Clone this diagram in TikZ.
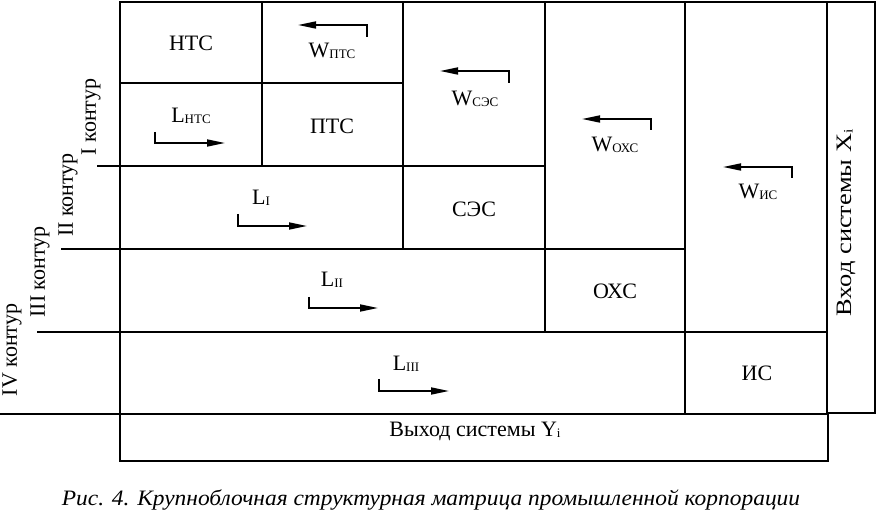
\documentclass[tikz,border=0pt]{standalone}
\usepackage{fontspec}
\setmainfont{Liberation Serif}
\usepackage{tikz}
\usetikzlibrary{arrows.meta}

% нижний индекс у обозначений
\newcommand{\idx}[1]{\raisebox{-1.5pt}{\fontsize{13}{13}\selectfont #1}}

\begin{document}
\begin{tikzpicture}[x=1pt, y=-1pt,
    thk/.style={line width=2.6pt},
    edge/.style={line width=1.8pt},
    thn/.style={line width=1.1pt},
    lbl/.style={font=\fontsize{22}{24}\selectfont, inner sep=0pt},
    flow/.style={line width=1.7pt, -{Triangle[length=18pt, width=7pt]}}]

    \useasboundingbox (0,0) rectangle (876,518);

    % =================================================================
    % 1. РАМКИ И ЛИНИИ МАТРИЦЫ
    % =================================================================
    \draw[thn] (120,2) -- (875,2);
    \draw[thn] (827,2) rectangle (875,413);
    \draw[thn] (545,2) -- (545,28);
    \draw[thn] (827,2) -- (827,48);
    \draw[edge] (120,2) -- (120,461) -- (828,461) -- (828,414);

    % Блок НТС
    \draw[thk] (120,2) rectangle (262,83);

    % Горизонтальные линии контуров
    \draw[thk] (120,83) -- (403,83);
    \draw[thk] (97,166) -- (545,166);
    \draw[thk] (61,249) -- (685,249);
    \draw[thk] (37,332) -- (827,332);
    \draw[thk] (0,414) -- (827,414);

    % Вертикальные линии
    \draw[thk] (262,2) -- (262,166);
    \draw[thk] (403,2) -- (403,249);
    \draw[thk] (545,28) -- (545,332);
    \draw[thk] (685,2) -- (685,414);
    \draw[thk] (827,48) -- (827,414);

    % =================================================================
    % 2. ПОДСИСТЕМЫ
    % =================================================================
    \node[lbl] (nts) at (191,43) {НТС};
    \node[lbl] (pts) at (332,126) {ПТС};
    \node[lbl] (ses) at (474,209) {СЭС};
    \node[lbl] (ohs) at (615,291) {ОХС};
    \node[lbl] (is)  at (757,373) {ИС};

    % =================================================================
    % 3. ПОТОКИ W (ВЛЕВО) И L (ВПРАВО)
    % =================================================================
    \node[lbl] (w-pts) at (332,51)  {W\idx{ПТС}};
    \node[lbl] (w-ses) at (475,99)  {W\idx{СЭС}};
    \node[lbl] (w-ohs) at (615,145) {W\idx{ОХС}};
    \node[lbl] (w-is)  at (758,192) {W\idx{ИС}};

    \coordinate (wp-a) at (367,37);  \coordinate (wp-b) at (298,25);
    \coordinate (ws-a) at (509,83);  \coordinate (ws-b) at (440,71);
    \coordinate (wo-a) at (651,130); \coordinate (wo-b) at (582,119);
    \coordinate (wi-a) at (792,178); \coordinate (wi-b) at (723,167);
    \draw[flow] (wp-a) |- (wp-b);
    \draw[flow] (ws-a) |- (ws-b);
    \draw[flow] (wo-a) |- (wo-b);
    \draw[flow] (wi-a) |- (wi-b);

    \node[lbl] (l-nts) at (191,116) {L\idx{НТС}};
    \node[lbl] (l-1)   at (261,198) {L\idx{I}};
    \node[lbl] (l-2)   at (332,280) {L\idx{II}};
    \node[lbl] (l-3)   at (406,364) {L\idx{III}};

    \coordinate (ln-a) at (155,132); \coordinate (ln-b) at (225,143);
    \coordinate (l1-a) at (238,214); \coordinate (l1-b) at (307,226);
    \coordinate (l2-a) at (309,297); \coordinate (l2-b) at (378,308);
    \coordinate (l3-a) at (379,379); \coordinate (l3-b) at (449,391);
    \draw[flow] (ln-a) |- (ln-b);
    \draw[flow] (l1-a) |- (l1-b);
    \draw[flow] (l2-a) |- (l2-b);
    \draw[flow] (l3-a) |- (l3-b);

    % =================================================================
    % 4. КОНТУРЫ, ВХОД И ВЫХОД
    % =================================================================
    \node[lbl, rotate=90] (k-1) at (91,117) {I контур};
    \node[lbl, rotate=90] (k-2) at (68,195) {II контур};
    \node[lbl, rotate=90] (k-3) at (40,272) {III контур};
    \node[lbl, rotate=90] (k-4) at (12,350) {IV контур};

    \node[lbl, rotate=90] (inp) at (846,223)
        {\scalebox{1.2}[1]{Вход системы X\idx{i}}};
    \node[lbl] (out) at (475,431) {Выход системы Y\idx{i}};

    \node[lbl] (cap) at (431,500)
        {\scalebox{1.065}[1]{\itshape Рис. 4. Крупноблочная структурная матрица промышленной корпорации}};

\end{tikzpicture}
\end{document}
